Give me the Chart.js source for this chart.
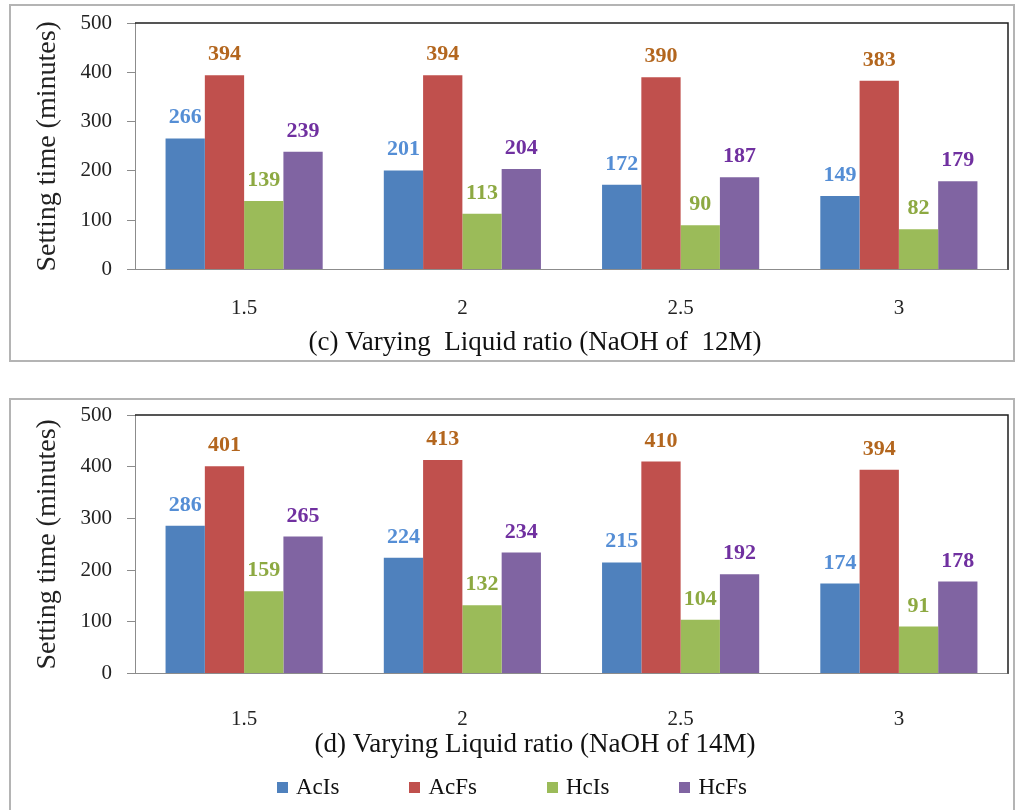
<!DOCTYPE html>
<html>
<head>
<meta charset="utf-8">
<script src="https://cdn.jsdelivr.net/npm/chart.js@4"></script>
<style>
    body { margin: 0; background: #fff; font-family: "Liberation Serif", serif; }
    .panel { position: absolute; left: 9px; width: 1006px; border: 2px solid #b4b4b4; box-sizing: border-box; background: #fff; }
    #panel-c { top: 4px; height: 358px; }
    #panel-d { top: 398px; height: 420px; }
    .panel canvas { display: block; }
    #legend { position: absolute; left: 277px; top: 774px; display: flex; gap: 70px; font-size: 23px; line-height: 26px; color: #111; }
    #legend .item { display: flex; align-items: center; }
    #legend i { display: inline-block; width: 11px; height: 11px; margin-right: 8px; }
</style>
</head>
<body>
<div class="panel" id="panel-c"><canvas id="chartC" width="1002" height="354"></canvas></div>
<div class="panel" id="panel-d"><canvas id="chartD" width="1002" height="410"></canvas></div>
<div id="legend"></div>

<script>
// --- Data ---
const ratios = ['1.5', '2', '2.5', '3'];
const seriesNames = ['AcIs', 'AcFs', 'HcIs', 'HcFs'];
const yTicks = [0, 100, 200, 300, 400, 500];

// (c) NaOH 12M
const acIs12 = [266, 201, 172, 149];
const acFs12 = [394, 394, 390, 383];
const hcIs12 = [139, 113, 90, 82];
const hcFs12 = [239, 204, 187, 179];

// (d) NaOH 14M
const acIs14 = [286, 224, 215, 174];
const acFs14 = [401, 413, 410, 394];
const hcIs14 = [159, 132, 104, 91];
const hcFs14 = [265, 234, 192, 178];

const barColors = ['#4F81BD', '#C0504D', '#9BBB59', '#8064A2'];
const labelColors = ['#558ED5', '#B3661E', '#8DA942', '#7030A0'];

const FONT = '"Liberation Serif", serif';
Chart.defaults.font.family = FONT;

let charts = { c: null, d: null };

// value labels above each bar
const valueLabels = {
    id: 'valueLabels',
    afterDatasetsDraw(chart) {
        const ctx = chart.ctx;
        ctx.save();
        ctx.font = `bold 22px ${FONT}`;
        ctx.textAlign = 'center';
        ctx.textBaseline = 'alphabetic';
        chart.data.datasets.forEach((ds, i) => {
            ctx.fillStyle = labelColors[i];
            chart.getDatasetMeta(i).data.forEach((bar, j) => {
                ctx.fillText(ds.data[j], bar.x, bar.y - 15);
            });
        });
        ctx.restore();
    }
};

// dark top/right edge of the plot area
const plotFrame = {
    id: 'plotFrame',
    afterDraw(chart) {
        const { left, top, right, bottom } = chart.chartArea;
        const ctx = chart.ctx;
        ctx.save();
        ctx.strokeStyle = '#1e1e1e';
        ctx.lineWidth = 1.5;
        ctx.beginPath();
        ctx.moveTo(left, top);
        ctx.lineTo(right, top);
        ctx.lineTo(right, bottom);
        ctx.stroke();
        ctx.restore();
    }
};

function makeChart(canvasId, series, caption, lay) {
    return new Chart(document.getElementById(canvasId), {
        type: 'bar',
        data: {
            labels: ratios,
            datasets: series.map((vals, i) => ({
                label: seriesNames[i],
                data: vals,
                backgroundColor: barColors[i],
                borderWidth: 0,
                barPercentage: 1,
                categoryPercentage: 0.72
            }))
        },
        options: {
            responsive: false,
            animation: false,
            layout: { padding: { left: 51, right: 5, top: lay.top, bottom: lay.bottom } },
            scales: {
                x: {
                    grid: { display: false, drawTicks: false },
                    border: { color: '#8c8c8c', width: 1 },
                    ticks: { padding: lay.xPad, color: '#222', font: { size: 21 } },
                    afterFit: s => { s.height = lay.xHeight; }
                },
                y: {
                    min: 0,
                    max: 500,
                    afterBuildTicks: s => { s.ticks = yTicks.map(v => ({ value: v })); },
                    afterFit: s => {
                        s.width = 73;
                        s.paddingTop = 0;
                        s.paddingBottom = 0;
                    },
                    grid: { drawOnChartArea: false, tickLength: 8, color: '#8c8c8c' },
                    border: { color: '#8c8c8c', width: 1 },
                    ticks: { padding: 15, color: '#222', font: { size: 21 } },
                    title: {
                        display: true,
                        text: 'Setting time (minutes)',
                        color: '#222',
                        font: { size: 28 },
                        padding: { top: -31, bottom: 0 }
                    }
                }
            },
            plugins: {
                legend: { display: false },
                tooltip: { enabled: false },
                title: {
                    display: true,
                    position: 'bottom',
                    text: caption,
                    color: '#111',
                    font: { size: 27, weight: 'normal' },
                    padding: { top: lay.capTop, bottom: 0 }
                }
            }
        },
        plugins: [valueLabels, plotFrame]
    });
}

function buildLegend() {
    document.getElementById('legend').innerHTML = seriesNames.map((n, i) =>
        `<span class="item"><i style="background:${barColors[i]}"></i>${n}</span>`
    ).join('');
}

charts.c = makeChart('chartC', [acIs12, acFs12, hcIs12, hcFs12],
    '(c) Varying  Liquid ratio (NaOH of  12M)',
    { top: 17, bottom: 1, xPad: 26, xHeight: 49, capTop: 8 });

charts.d = makeChart('chartD', [acIs14, acFs14, hcIs14, hcFs14],
    '(d) Varying Liquid ratio (NaOH of 14M)',
    { top: 15, bottom: 49, xPad: 33, xHeight: 54, capTop: 1 });

buildLegend();
</script>
</body>
</html>
